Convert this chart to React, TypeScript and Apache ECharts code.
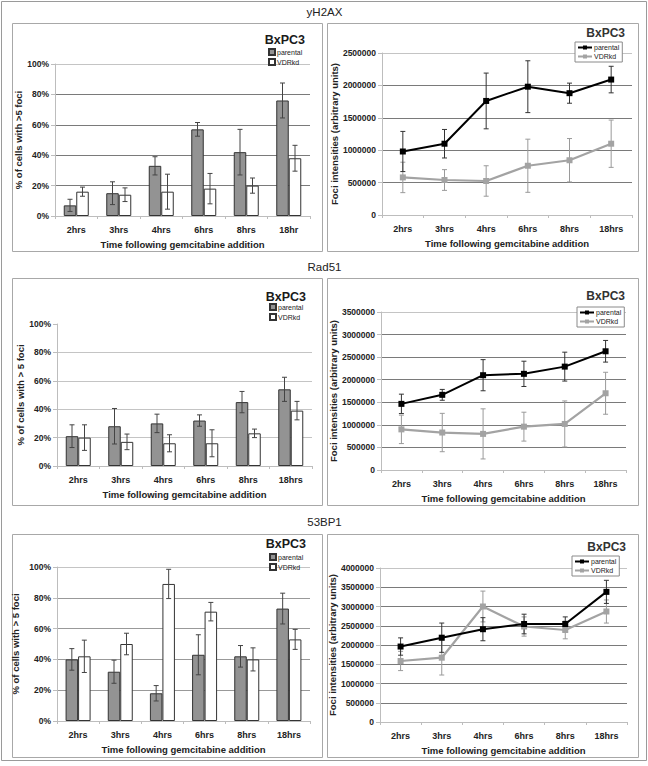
import React, { useEffect, useRef } from 'react';
import * as echarts from 'echarts';

// ---------- data ----------
const categoriesFirst = ['2hrs', '3hrs', '4hrs', '6hrs', '8hrs', '18hr'];
const categories = ['2hrs', '3hrs', '4hrs', '6hrs', '8hrs', '18hrs'];
const sectionTitles = ['yH2AX', 'Rad51', '53BP1'];
const cellLine = 'BxPC3';

// yH2AX
const h2axPctParental = [7, 15, 33, 57, 42, 76];
const h2axPctParentalErr = [4, 7.5, 6, 4.5, 15, 11.5];
const h2axPctVDRkd = [16, 14, 16, 18, 20, 38];
const h2axPctVDRkdErr = [3, 4.5, 11.5, 10, 5, 8.5];
const h2axIntParental = [980000, 1100000, 1760000, 1980000, 1880000, 2090000];
const h2axIntParentalErr = [310000, 220000, 430000, 400000, 155000, 205000];
const h2axIntVDRkd = [580000, 540000, 525000, 760000, 845000, 1100000];
const h2axIntVDRkdErr = [235000, 160000, 235000, 410000, 335000, 365000];

// Rad51
const rad51PctParental = [21, 28, 30, 32, 45, 54];
const rad51PctParentalErr = [8, 12.5, 6.5, 4, 7.5, 8.5];
const rad51PctVDRkd = [20, 17, 16, 16, 23, 39];
const rad51PctVDRkdErr = [9, 5.5, 6, 9.5, 3, 6.5];
const rad51IntParental = [1465000, 1665000, 2100000, 2130000, 2290000, 2630000];
const rad51IntParentalErr = [215000, 120000, 345000, 280000, 320000, 240000];
const rad51IntVDRkd = [900000, 830000, 800000, 960000, 1020000, 1700000];
const rad51IntVDRkdErr = [315000, 425000, 555000, 320000, 510000, 465000];

// 53BP1
const bp1PctParental = [40, 32, 18, 43, 42, 73];
const bp1PctParentalErr = [7, 7.5, 5, 13, 7, 10];
const bp1PctVDRkd = [42, 50, 89, 71, 40, 53];
const bp1PctVDRkdErr = [10.5, 7, 9.5, 6, 7.5, 6.5];
const bp1IntParental = [1960000, 2190000, 2410000, 2545000, 2545000, 3380000];
const bp1IntParentalErr = [225000, 380000, 300000, 255000, 185000, 300000];
const bp1IntVDRkd = [1585000, 1670000, 3000000, 2480000, 2390000, 2870000];
const bp1IntVDRkdErr = [250000, 450000, 400000, 250000, 230000, 300000];

const xTitle = 'Time following gemcitabine addition';
const pctTitleA = '% of cells with >5 foci';
const pctTitleB = '% of cells with > 5 foci';
const intTitle = 'Foci intensities (arbitrary units)';

// ---------- styling / layout ----------
const FONT = '"Liberation Sans", Arial, Helvetica, sans-serif';
const BAR_W = 12.5;
const LINE_SUFFIX = ' (line)';

type Panel = {
  kind: 'bar' | 'line';
  box: [number, number, number, number];
  grid: { left: number; top: number; width: number; height: number };
  cats: string[];
  p: number[]; pe: number[]; v: number[]; ve: number[];
  max: number; interval: number;
  yName: string; yGap: number;
  splitColors: string[];
  titleXY: [number, number];
  legendXY: [number, number];
};

const D = '#7a7a7a';
const L = '#c4c4c4';

const panels: Panel[] = [
  {
    kind: 'bar', box: [12, 23, 310, 228], grid: { left: 55, top: 64, width: 255, height: 152 },
    cats: categoriesFirst, p: h2axPctParental, pe: h2axPctParentalErr, v: h2axPctVDRkd, ve: h2axPctVDRkdErr,
    max: 100, interval: 20, yName: pctTitleA, yGap: 32,
    splitColors: [L, D, D, D, D, L], titleXY: [305, 40], legendXY: [268, 48],
  },
  {
    kind: 'line', box: [327, 23, 311, 228], grid: { left: 382, top: 53, width: 250, height: 162 },
    cats: categories, p: h2axIntParental, pe: h2axIntParentalErr, v: h2axIntVDRkd, ve: h2axIntVDRkdErr,
    max: 2500000, interval: 500000, yName: intTitle, yGap: 43,
    splitColors: [L, D, D, D, D, L], titleXY: [625, 33], legendXY: [575, 42],
  },
  {
    kind: 'bar', box: [12, 278, 310, 227], grid: { left: 57, top: 324, width: 255, height: 142 },
    cats: categories, p: rad51PctParental, pe: rad51PctParentalErr, v: rad51PctVDRkd, ve: rad51PctVDRkdErr,
    max: 100, interval: 20, yName: pctTitleB, yGap: 32,
    splitColors: [L, L, L, L, L, 'rgba(0,0,0,0)'], titleXY: [306, 297], legendXY: [269, 303],
  },
  {
    kind: 'line', box: [327, 278, 311, 227], grid: { left: 381, top: 312, width: 245, height: 158 },
    cats: categories, p: rad51IntParental, pe: rad51IntParentalErr, v: rad51IntVDRkd, ve: rad51IntVDRkdErr,
    max: 3500000, interval: 500000, yName: intTitle, yGap: 38,
    splitColors: [L, D, D, D, D, D, D, L], titleXY: [625, 296], legendXY: [577, 307],
  },
  {
    kind: 'bar', box: [12, 534, 310, 223], grid: { left: 57, top: 567, width: 253, height: 154 },
    cats: categories, p: bp1PctParental, pe: bp1PctParentalErr, v: bp1PctVDRkd, ve: bp1PctVDRkdErr,
    max: 100, interval: 20, yName: pctTitleB, yGap: 37,
    splitColors: [L, '#999', '#999', '#999', '#999', L], titleXY: [306, 544], legendXY: [269, 553],
  },
  {
    kind: 'line', box: [327, 534, 311, 223], grid: { left: 380, top: 568, width: 247, height: 154 },
    cats: categories, p: bp1IntParental, pe: bp1IntParentalErr, v: bp1IntVDRkd, ve: bp1IntVDRkdErr,
    max: 4000000, interval: 500000, yName: intTitle, yGap: 41,
    splitColors: [L, D, D, D, D, D, D, D, L], titleXY: [626, 547], legendXY: [572, 556],
  },
];

const sectionTitleY = [12, 267, 522];

function errData(vals: number[], errs: number[]) {
  return vals.map((val, i) => [i, val - errs[i], val + errs[i]]);
}

function errSeries(idx: number, data: number[][], offset: number, color: string, z: number) {
  return {
    type: 'custom',
    xAxisIndex: idx,
    yAxisIndex: idx,
    z,
    silent: true,
    data,
    renderItem: (_params: any, api: any) => {
      const c = api.value(0);
      const lo = api.coord([c, api.value(1)]);
      const hi = api.coord([c, api.value(2)]);
      const x = lo[0] + offset;
      const cap = 2.5;
      const st = { stroke: color, lineWidth: 1 };
      return {
        type: 'group',
        children: [
          { type: 'line', shape: { x1: x, y1: lo[1], x2: x, y2: hi[1] }, style: st },
          { type: 'line', shape: { x1: x - cap, y1: lo[1], x2: x + cap, y2: lo[1] }, style: st },
          { type: 'line', shape: { x1: x - cap, y1: hi[1], x2: x + cap, y2: hi[1] }, style: st },
        ],
      };
    },
  };
}

function buildOption() {
  const grids: any[] = [];
  const xAxes: any[] = [];
  const yAxes: any[] = [];
  const series: any[] = [];
  const legends: any[] = [];
  const graphics: any[] = [];

  graphics.push({
    type: 'rect', shape: { x: 1.5, y: 1.5, width: 645, height: 759 },
    style: { fill: 'none', stroke: '#9a9a9a', lineWidth: 1 }, z: 0,
  });
  sectionTitles.forEach((t, i) => {
    graphics.push({
      type: 'text', x: 324.5, y: sectionTitleY[i],
      style: { text: t, align: 'center', verticalAlign: 'middle', fontSize: 11.5, fontFamily: FONT, fill: '#222' },
    });
  });

  panels.forEach((pn, i) => {
    graphics.push({
      type: 'rect', shape: { x: pn.box[0] + 0.5, y: pn.box[1] + 0.5, width: pn.box[2], height: pn.box[3] },
      style: { fill: 'none', stroke: '#a8a8a8', lineWidth: 1 }, z: 0,
    });
    graphics.push({
      type: 'text', x: pn.titleXY[0], y: pn.titleXY[1],
      style: {
        text: cellLine, align: 'right', verticalAlign: 'middle',
        fontSize: pn.kind === 'bar' ? 12.5 : 12, fontWeight: 'bold', fontFamily: FONT,
        fill: pn.kind === 'bar' ? '#1a1a1a' : '#333',
      },
    });

    grids.push({ ...pn.grid, containLabel: false });
    const axisLabelStyle = { color: '#222', fontSize: 8.5, fontWeight: 'bold', fontFamily: FONT };
    const nameStyle = { color: '#222', fontSize: 9.5, fontWeight: 'bold', fontFamily: FONT };
    xAxes.push({
      gridIndex: i, type: 'category', data: pn.cats,
      axisLine: { lineStyle: { color: '#bdbdbd' } },
      axisTick: { show: true, length: 3, lineStyle: { color: '#bdbdbd' } },
      axisLabel: { ...axisLabelStyle, fontSize: 9, margin: 9 },
      name: xTitle, nameLocation: 'middle', nameGap: 23, nameTextStyle: nameStyle,
    });
    yAxes.push({
      gridIndex: i, type: 'value', min: 0, max: pn.max, interval: pn.interval,
      axisLine: { show: true, lineStyle: { color: '#bdbdbd' } },
      axisTick: { show: true, length: 4, lineStyle: { color: '#bdbdbd' } },
      axisLabel: {
        ...axisLabelStyle, margin: 6,
        formatter: pn.kind === 'bar' ? (v: number) => `${v}%` : (v: number) => String(v),
      },
      splitLine: { show: true, lineStyle: { color: pn.splitColors, width: 1 } },
      name: pn.yName, nameLocation: 'middle', nameGap: pn.yGap, nameTextStyle: nameStyle,
    });

    if (pn.kind === 'bar') {
      series.push({
        type: 'bar', name: 'parental', xAxisIndex: i, yAxisIndex: i, data: pn.p,
        barWidth: BAR_W, barGap: '0%', z: 2,
        itemStyle: { color: '#939393', borderColor: '#333', borderWidth: 1 },
      });
      series.push({
        type: 'bar', name: 'VDRkd', xAxisIndex: i, yAxisIndex: i, data: pn.v,
        barWidth: BAR_W, barGap: '0%', z: 2,
        itemStyle: { color: '#ffffff', borderColor: '#333', borderWidth: 1 },
      });
      series.push(errSeries(i, errData(pn.p, pn.pe), -BAR_W / 2, '#444', 5));
      series.push(errSeries(i, errData(pn.v, pn.ve), BAR_W / 2, '#444', 5));
      legends.push({
        left: pn.legendXY[0], top: pn.legendXY[1], orient: 'vertical', padding: 0,
        itemWidth: 6, itemHeight: 6, itemGap: 2, selectedMode: false, icon: 'rect',
        data: ['parental', 'VDRkd'],
        textStyle: { fontSize: 7, color: '#222', fontFamily: FONT, padding: [0, 0, 0, -3] },
      });
    } else {
      series.push(errSeries(i, errData(pn.v, pn.ve), 0, '#9a9a9a', 3));
      series.push(errSeries(i, errData(pn.p, pn.pe), 0, '#333', 3));
      series.push({
        type: 'line', name: 'VDRkd' + LINE_SUFFIX, xAxisIndex: i, yAxisIndex: i, data: pn.v,
        symbol: 'rect', symbolSize: 6, z: 4,
        lineStyle: { color: '#a3a3a3', width: 2.2 }, itemStyle: { color: '#a3a3a3' },
      });
      series.push({
        type: 'line', name: 'parental' + LINE_SUFFIX, xAxisIndex: i, yAxisIndex: i, data: pn.p,
        symbol: 'rect', symbolSize: 6, z: 4,
        lineStyle: { color: '#000', width: 2 }, itemStyle: { color: '#000' },
      });
      legends.push({
        left: pn.legendXY[0], top: pn.legendXY[1], orient: 'vertical', padding: [2, 3, 2, 2],
        itemWidth: 14, itemHeight: 5, itemGap: 2, selectedMode: false,
        backgroundColor: '#fff', borderColor: '#8a8a8a', borderWidth: 1,
        data: ['parental' + LINE_SUFFIX, 'VDRkd' + LINE_SUFFIX],
        formatter: (n: string) => n.replace(LINE_SUFFIX, ''),
        textStyle: { fontSize: 7, color: '#222', fontFamily: FONT, padding: [0, 0, 0, -3] },
      });
    }
  });

  return {
    animation: false,
    backgroundColor: '#ffffff',
    textStyle: { fontFamily: FONT },
    grid: grids,
    xAxis: xAxes,
    yAxis: yAxes,
    series,
    legend: legends,
    graphic: graphics,
  };
}

export default function App() {
  const ref = useRef<HTMLDivElement>(null);
  useEffect(() => {
    if (!ref.current) return;
    const chart = echarts.init(ref.current, undefined, { renderer: 'svg', width: 648, height: 766 });
    chart.setOption(buildOption() as any);
    return () => chart.dispose();
  }, []);
  return (
    <div
      ref={ref}
      style={{ position: 'absolute', left: 0, top: 0, width: 648, height: 766, background: '#fff' }}
    />
  );
}
